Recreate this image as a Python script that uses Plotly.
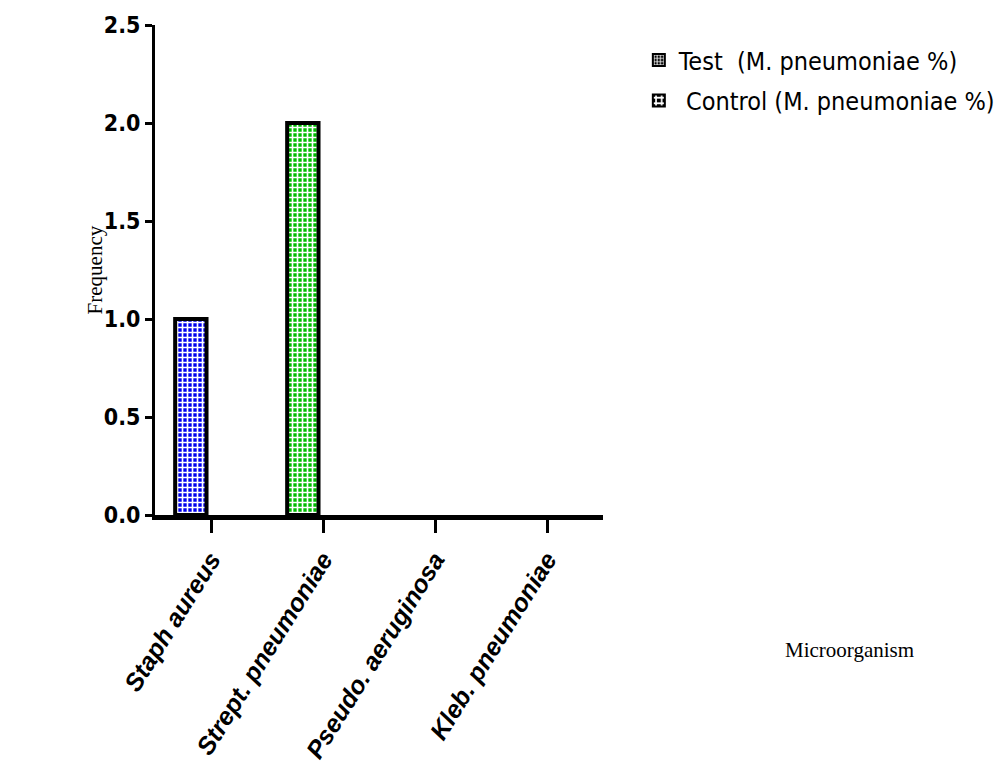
import plotly.graph_objects as go

# Frequency of each microorganism in the two groups
organisms = ["Staph aureus", "Strept. pneumoniae", "Pseudo. aeruginosa", "Kleb. pneumoniae"]
test_values = [1, 2, 0, 0]
control_values = [0, 0, 0, 0]
bar_colors = ["#0000ee", "#00bb00", "#dd0000", "#aa00aa"]

y_ticks = [0.0, 0.5, 1.0, 1.5, 2.0, 2.5]
y_tick_labels = ["0.0", "0.5", "1.0", "1.5", "2.0", "2.5"]

narrow = "Liberation Sans Narrow, Arial Narrow, DejaVu Sans Condensed, sans-serif"
serif = "Liberation Serif, Times New Roman, serif"


def outline_widths(values):
    # empty bars get no outline so nothing is drawn at zero
    return [4 if v > 0 else 0 for v in values]


fig = go.Figure()

# Test group bars (left of each category tick)
fig.add_trace(go.Bar(
    x=organisms, y=test_values, offset=-0.32, width=0.28,
    marker=dict(color=bar_colors,
                line=dict(color="black", width=outline_widths(test_values)),
                pattern=dict(shape="+", fgcolor="black", size=5, solidity=0.55,
                             fgopacity=1, fillmode="overlay")),
    showlegend=False,
))
# Control group bars (right of each category tick)
fig.add_trace(go.Bar(
    x=organisms, y=control_values, offset=0.04, width=0.28,
    marker=dict(color=bar_colors,
                line=dict(color="black", width=outline_widths(control_values)),
                pattern=dict(shape="+", fgcolor="black", size=8, solidity=0.55,
                             fgopacity=1, fillmode="overlay")),
    showlegend=False,
))

# Legend entries
fig.add_trace(go.Bar(
    x=[organisms[0]], y=[None], name="Test  (M. pneumoniae %)", legendgroup="test",
    marker=dict(color="black", line=dict(color="black", width=2),
                pattern=dict(shape="+", fgcolor="white", bgcolor="black",
                             size=4, solidity=0.5, fillmode="replace")),
))
fig.add_trace(go.Bar(
    x=[organisms[0]], y=[None], name=" Control (M. pneumoniae %)", legendgroup="control",
    marker=dict(color="black", line=dict(color="black", width=2),
                pattern=dict(shape="+", fgcolor="white", bgcolor="black",
                             size=7, solidity=0.5, fillmode="replace")),
))

fig.update_layout(
    width=994, height=784,
    margin=dict(l=155, r=391, t=25, b=269, autoexpand=False),
    paper_bgcolor="white", plot_bgcolor="white",
    barmode="overlay",
    showlegend=True,
    legend=dict(x=1.08, y=0.975, xanchor="left", yanchor="top",
                font=dict(family=narrow, size=25, color="black"),
                traceorder="grouped", tracegroupgap=5, itemsizing="constant",
                bgcolor="rgba(0,0,0,0)"),
    xaxis=dict(
        type="category", range=[-0.5, 3.5], automargin=False,
        showline=True, linecolor="black", linewidth=5,
        ticks="outside", ticklen=13, tickwidth=3, tickcolor="black",
        tickangle=-58, ticklabelstandoff=2, showgrid=False, zeroline=False,
        tickfont=dict(family="Liberation Sans, Arial, sans-serif", size=25,
                      color="black", weight="bold", style="italic"),
    ),
    yaxis=dict(
        range=[0, 2.5], tickvals=y_ticks, ticktext=y_tick_labels, automargin=False,
        showline=True, linecolor="black", linewidth=3,
        ticks="outside", ticklen=7, tickwidth=3, tickcolor="black",
        showgrid=False, zeroline=False,
        tickfont=dict(family=narrow, size=23, color="black", weight="bold"),
    ),
    annotations=[
        dict(text="Frequency", xref="paper", yref="paper", x=-0.133, y=0.50,
             xanchor="center", yanchor="middle",
             textangle=-90, showarrow=False,
             font=dict(family=serif, size=21, color="black")),
        dict(text="Microorganism", xref="paper", yref="paper", x=1.55, y=-0.275,
             xanchor="center", yanchor="middle",
             showarrow=False, font=dict(family=serif, size=21, color="black")),
    ],
)

fig.write_html("out.html")
